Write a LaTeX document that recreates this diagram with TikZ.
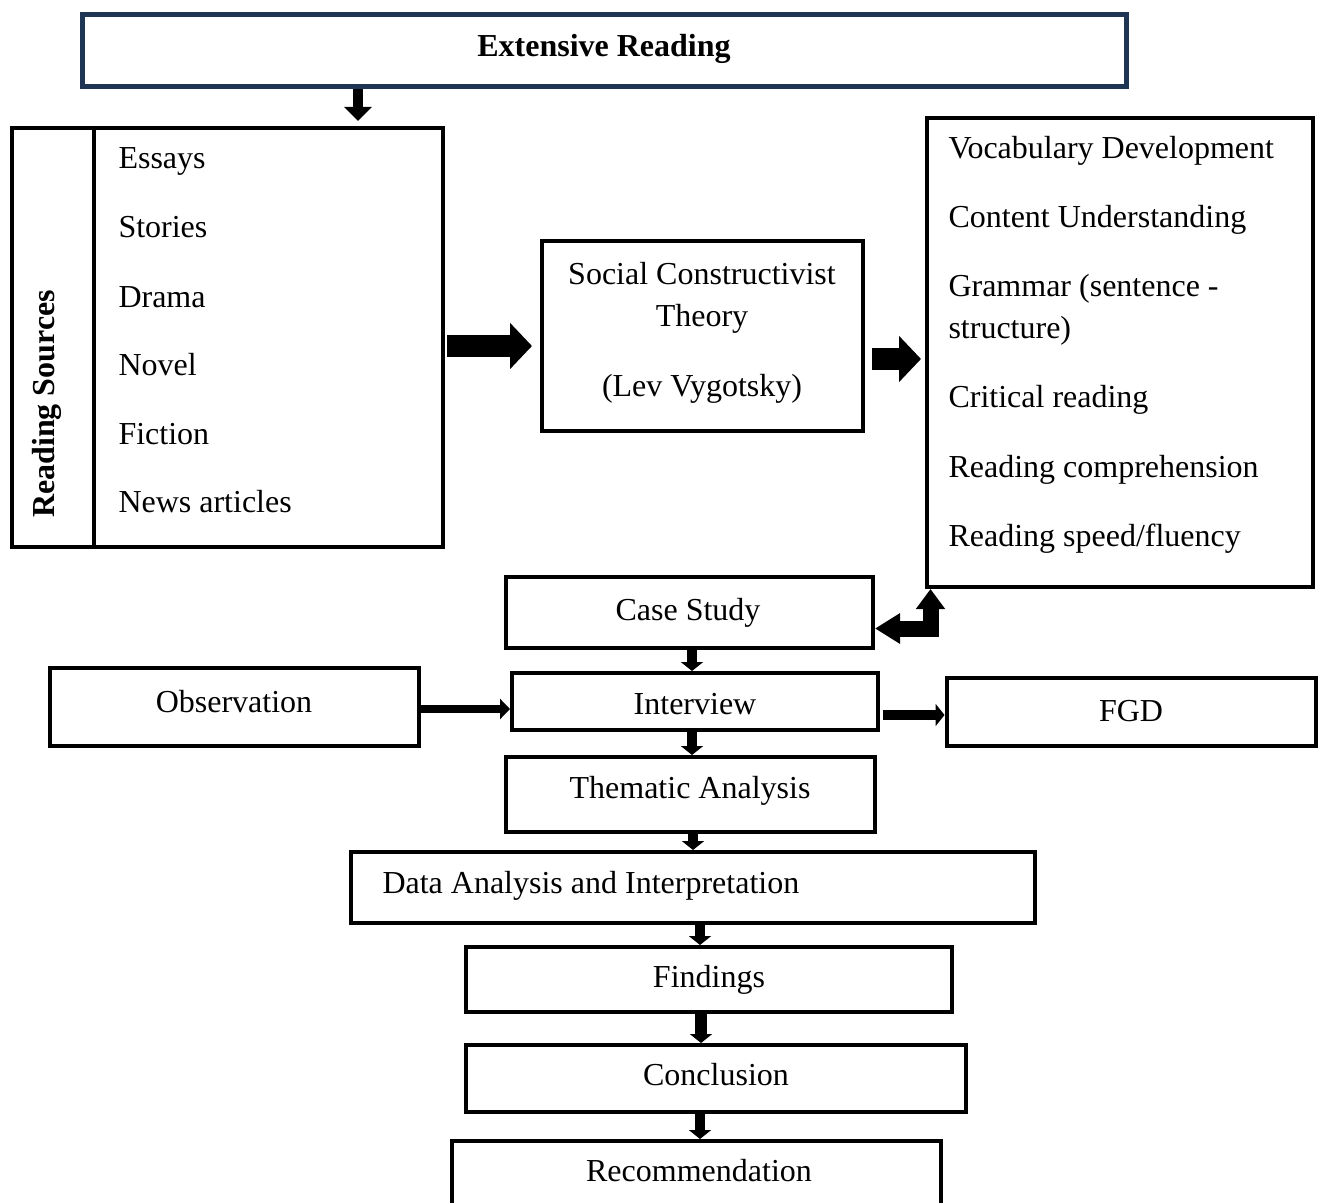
\documentclass[tikz,border=0pt]{standalone}
\usepackage{fontspec}
\setmainfont{Liberation Serif}
\usetikzlibrary{arrows.meta}
\definecolor{navy}{RGB}{31,53,84}
\begin{document}
\begin{tikzpicture}[x=0.4pt,y=-0.4pt,
  bx/.style 2 args={draw=black, line width=1.6pt, inner sep=0pt, minimum width=#1*0.4pt, minimum height=#2*0.4pt},
  txt/.style={font=\fontsize{12.8}{15}\selectfont, inner sep=0pt, anchor=base},
  item/.style={txt, anchor=base west},
  arrS/.style={line width=4pt, -{Triangle[width=8.8pt,length=3.6pt]}},
  arrBig/.style={line width=8.8pt, -{Triangle[width=18pt,length=8.8pt]}}
]
\useasboundingbox (0,0) rectangle (1323,1203);
\fill[white] (0,0) rectangle (1323,1203);

% top box
\node[bx={1044}{72}, draw=navy, line width=2pt] (er) at (604,51) {};
\node[txt] (ert) at (604,57) {\textbf{Extensive Reading}};

% reading sources
\node[bx={431}{419}] (rs) at (227.5,337.5) {};
\draw[line width=1.6pt] (94,0 |- rs.north) -- (94,0 |- rs.south);
\node[txt, rotate=90, anchor=center] (rst) at (47,404) {\textbf{Reading Sources}};
\node[item] (i1) at (118,169) {Essays};
\node[item] (i2) at (118,238) {Stories};
\node[item] (i3) at (118,308) {Drama};
\node[item] (i4) at (118,376) {Novel};
\node[item] (i5) at (118,445) {Fiction};
\node[item] (i6) at (118,513) {News articles};

% social constructivist
\node[bx={321}{190}] (sc) at (702,336) {};
\node[txt] (sc1) at (702,285) {Social Constructivist};
\node[txt] (sc2) at (702,327) {Theory};
\node[txt] (sc3) at (702,397) {(Lev Vygotsky)};

% outcomes box
\node[bx={386}{469}] (rb) at (1120,352.5) {};
\node[item] (o1) at (948,159) {Vocabulary Development};
\node[item] (o2) at (948,228) {Content Understanding};
\node[item] (o3) at (948,297) {Grammar (sentence -};
\node[item] (o4) at (948,339) {structure)};
\node[item] (o5) at (948,408) {Critical reading};
\node[item] (o6) at (948,478) {Reading comprehension};
\node[item] (o7) at (948,546) {Reading speed/fluency};

% method boxes
\node[bx={367}{71}] (cs) at (689.5,612.5) {};
\node[txt] (cst) at (688,620) {Case Study};
\node[bx={366}{57}] (iv) at (695,701.5) {};
\node[txt] (ivt) at (695,714) {Interview};
\node[bx={369}{78}] (ob) at (234.5,707) {};
\node[txt] (obt) at (234,712) {Observation};
\node[bx={369}{68}] (fg) at (1131,712) {};
\node[txt] (fgt) at (1131,721) {FGD};
\node[bx={369}{75}] (ta) at (690.5,794.5) {};
\node[txt] (tat) at (690,798) {Thematic Analysis};
\node[bx={684}{71}] (da) at (693,887.5) {};
\node[txt, anchor=base west] (dat) at (382,893) {Data Analysis and Interpretation};
\node[bx={486}{65}] (fi) at (709,979.5) {};
\node[txt] (fit) at (709,987) {Findings};
\node[bx={500}{67}] (co) at (716,1078.5) {};
\node[txt] (cot) at (716,1085) {Conclusion};
\node[bx={489}{100}] (re) at (696.5,1191) {};
\node[txt] (ret) at (699,1181) {Recommendation};

% connectors
\draw[line width=4pt, -{Triangle[width=10.8pt,length=5.6pt]}, shorten >=2pt] (er.south -| 358,0) -- (rs.north -| 358,0);
\draw[arrBig, shorten <=0.8pt, shorten >=3pt] (rs.east |- 0,346) -- (sc.west |- 0,346);
\draw[arrBig, shorten <=3pt, shorten >=1.6pt] (sc.east |- 0,359) -- (rb.west |- 0,359);
\draw[line width=6.4pt, {Triangle[width=11.6pt,length=10pt]}-{Triangle[width=11.2pt,length=8pt]}] (cs.east |- 0,628.5) -| (rb.south -| 930.5,0);
\draw[arrS] (cs.south -| 692,0) -- (iv.north -| 692,0);
\draw[line width=3.2pt, -{Triangle[width=8pt,length=4pt]}] (ob.east |- 0,709) -- (iv.west |- 0,709);
\draw[arrS, shorten <=1.2pt] (iv.east |- 0,715) -- (fg.west |- 0,715);
\draw[arrS] (iv.south -| 692,0) -- (ta.north -| 692,0);
\draw[arrS] (ta.south -| 693,0) -- (da.north -| 693,0);
\draw[arrS] (da.south -| 700,0) -- (fi.north -| 700,0);
\draw[arrS, line width=4.6pt] (fi.south -| 701,0) -- (co.north -| 701,0);
\draw[arrS] (co.south -| 700,0) -- (re.north -| 700,0);
\end{tikzpicture}
\end{document}
